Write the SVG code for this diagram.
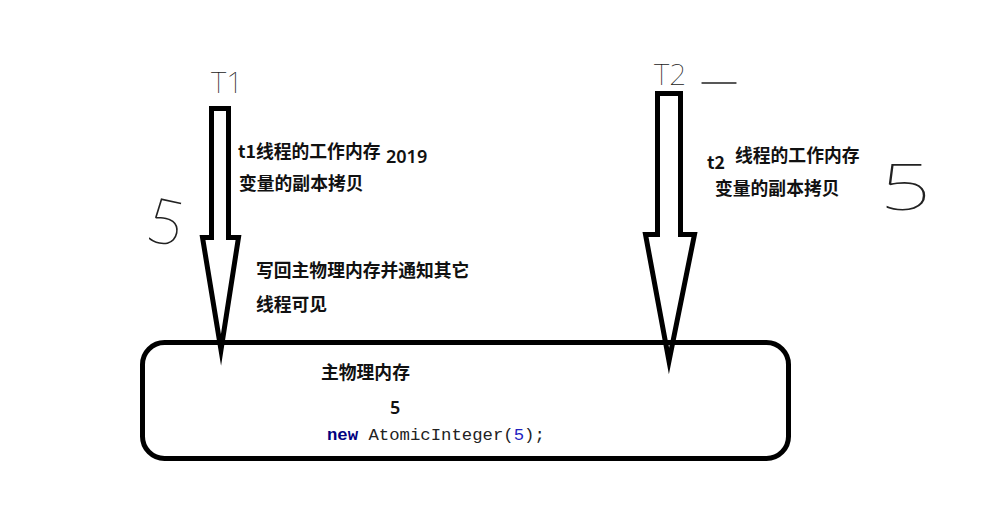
<svg xmlns="http://www.w3.org/2000/svg" width="1008" height="519" viewBox="0 0 1008 519">
<style>
.arrow{fill:none;stroke:#000;stroke-width:5;stroke-linejoin:miter;stroke-miterlimit:14}
.box{fill:none;stroke:#000;stroke-width:5}
.lbl{font-family:"Noto Sans CJK SC","Microsoft YaHei",sans-serif;font-weight:bold;font-size:17.8px;fill:#111}
.num{font-family:"Noto Sans","Liberation Sans",sans-serif;font-size:18px;font-weight:600;fill:#111}
.hand{font-family:"Noto Sans","Liberation Sans",sans-serif;font-weight:100;fill:#222}
.code{font-family:"Liberation Mono",monospace;font-size:17.3px;fill:#222}
.ink{fill:none;stroke:#222;stroke-width:1.3;stroke-linecap:round}
</style>
<rect width="1008" height="519" fill="#fff"/>
<g id="memory">
<rect class="box" x="142.5" y="342.5" width="646" height="116" rx="22"/>
<text class="lbl" x="321" y="379">主物理内存</text>
<text class="num" x="390" y="414" font-weight="bold">5</text>
<text class="code" x="327" y="440"><tspan fill="#000080" font-weight="bold">new</tspan> AtomicInteger(<tspan fill="#2020c0">5</tspan>);</text>
</g>
<g id="connectors">
<polygon id="arrow-t1" class="arrow" points="211.5,108.5 228.5,108.5 228.5,237.5 238.5,237.5 221,350 202.5,237.5 211.5,237.5"/>
<polygon id="arrow-t2" class="arrow" points="657.5,93.5 680.5,93.5 680.5,234.5 694.5,234.5 669,361 645.5,234.5 657.5,234.5"/>
</g>
<g id="t1">
<text class="hand" x="211" y="93" font-size="30">T1</text>
<text class="lbl" x="238" y="158">t1线程的工作内存</text>
<text class="num" x="386" y="163">2019</text>
<text class="lbl" x="239" y="190">变量的副本拷贝</text>
<text class="lbl" x="256" y="277">写回主物理内存并通知其它</text>
<text class="lbl" x="256" y="311">线程可见</text>
<text class="hand" x="0" y="0" font-size="62" transform="translate(144,240) rotate(12)">5</text>
</g>
<g id="t2">
<text class="hand" x="654" y="85" font-size="30">T2</text>
<line class="ink" x1="702" y1="83" x2="736" y2="83"/>
<text class="lbl" x="707" y="169">t2</text>
<text class="lbl" x="735" y="162">线程的工作内存</text>
<text class="lbl" x="715" y="195">变量的副本拷贝</text>
<text class="hand" x="0" y="0" font-size="64" transform="translate(880,210) scale(1.4,1)">5</text>
</g>
</svg>
